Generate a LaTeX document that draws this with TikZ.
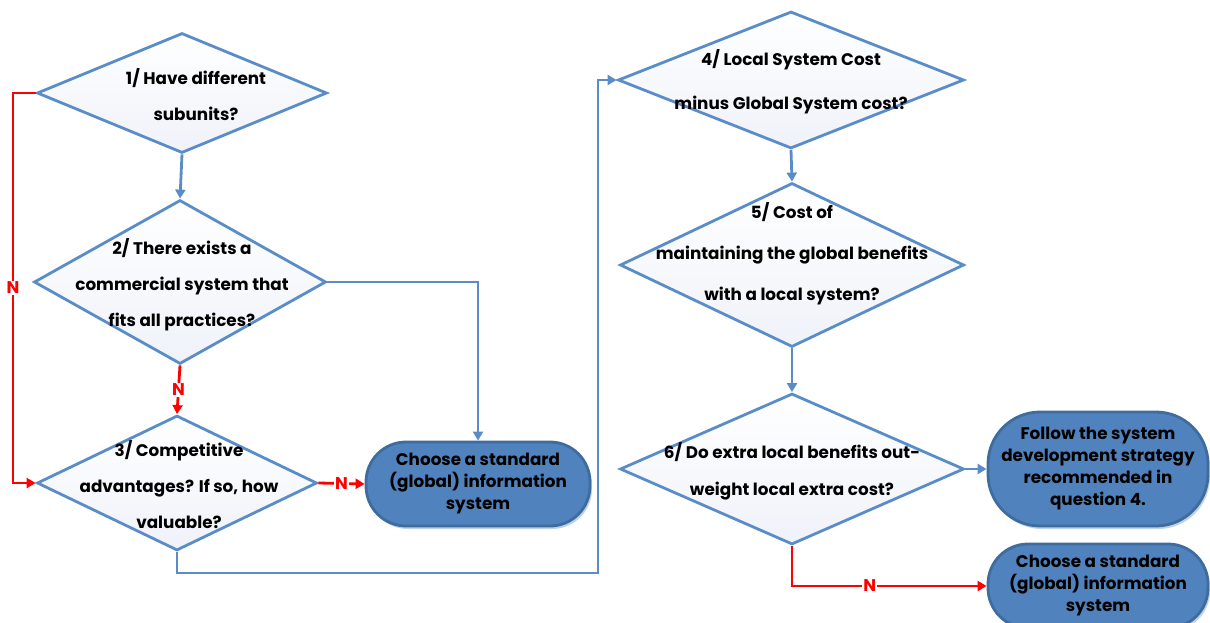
\documentclass[tikz,border=0pt]{standalone}
\usepackage{fontspec}
\setmainfont{Poppins}
\usetikzlibrary{arrows.meta,shapes.geometric,shadows,calc}
\definecolor{lineblue}{HTML}{5A8DC8}
\definecolor{boxblue}{HTML}{5082BE}
\definecolor{boxedge}{HTML}{3F6C9E}
\definecolor{diafill}{HTML}{EFF2F9}
\tikzset{
  dia/.style={diamond,draw=lineblue,line width=2.8pt,top color=white,bottom color=diafill,inner sep=0pt,aspect=1},
  dtext/.style={font=\fontsize{16.8}{36}\selectfont\bfseries,align=center,inner sep=0pt},
  term/.style={draw=boxedge,line width=2.8pt,fill=boxblue,rounded corners=40pt,inner sep=0pt,
    font=\fontsize{16.8}{22}\selectfont\bfseries,align=center,
    drop shadow={shadow xshift=2pt,shadow yshift=-3pt,fill=lineblue!50,opacity=0.8}},
  barrow/.style={draw=lineblue,line width=2.8pt,-{Triangle[length=9pt,width=10pt]}},
  rarrow/.style={draw=red,line width=2.8pt,-{Triangle[length=9pt,width=10pt]}},
  nlab/.style={fill=white,text=red,font=\fontsize{17}{18}\selectfont\bfseries,inner sep=1pt}
}
\begin{document}
\begin{tikzpicture}[x=1pt,y=-1pt]
\useasboundingbox (0,0) rectangle (1210,623);
\clip (0,0) rectangle (1210,623);
% diamonds
\node[dia,minimum width=290pt,minimum height=120pt] (d1) at (182,93) {};
\node[dia,minimum width=292pt,minimum height=164pt] (d2) at (180,282) {};
\node[dia,minimum width=280pt,minimum height=135pt] (d3) at (177,483) {};
\node[dia,minimum width=346pt,minimum height=137pt] (d4) at (791,80) {};
\node[dia,minimum width=344pt,minimum height=164pt] (d5) at (792,265) {};
\node[dia,minimum width=344pt,minimum height=151pt] (d6) at (792,469) {};
% diamond texts
\node[dtext] (t1) at (196,95) {1/ Have different\\subunits?};
\node[dtext] (t2) at (182,285) {2/ There exists a\\commercial system that\\fits all practices?};
\node[dtext] (t3) at (179,485) {3/ Competitive\\advantages? If so, how\\valuable?};
\node[dtext,font=\fontsize{16.8}{44}\selectfont\bfseries] (t4) at (791,82) {4/ Local System Cost\\minus Global System cost?};
\node[dtext,font=\fontsize{16.8}{41}\selectfont\bfseries] (t5) at (792,254) {5/ Cost of\\maintaining the global benefits\\with a local system?};
\node[dtext,font=\fontsize{16.8}{37}\selectfont\bfseries] (t6) at (792,471) {6/ Do extra local benefits out-\\weight local extra cost?};
% terminals
\node[term,minimum width=224pt,minimum height=84pt] (e1) at (478,484) {Choose a standard\\(global) information\\system};
\node[term,minimum width=220pt,minimum height=114pt,rounded corners=52pt] (e2) at (1098,469) {Follow the system\\development strategy\\recommended in\\question 4.};
\node[term,minimum width=220pt,minimum height=84pt] (e3) at (1098,586) {Choose a standard\\(global) information\\system};
% connectors
\coordinate (c1) at (13,93);
\coordinate (c2) at (598,573);
\draw[barrow] (d1.south) -- (d2.north);
\draw[rarrow] (d1.west) -- (c1) |- (d3.west) node[nlab,pos=0.25] {N};
\draw[rarrow] (d2.south) -- node[nlab] {N} (d3.north);
\draw[barrow] (d2.east) -| (e1.north);
\draw[rarrow] (d3.east) -- node[nlab] {N} (e1.west);
\draw[barrow] (d3.south) |- (c2) |- (d4.west);
\draw[barrow] (d4.south) -- (d5.north);
\draw[barrow] (d5.south) -- (d6.north);
\draw[barrow] (d6.east) -- (e2.west);
\draw[rarrow] (d6.south) |- (e3.west) node[nlab,pos=0.7] {N};
\end{tikzpicture}
\end{document}
